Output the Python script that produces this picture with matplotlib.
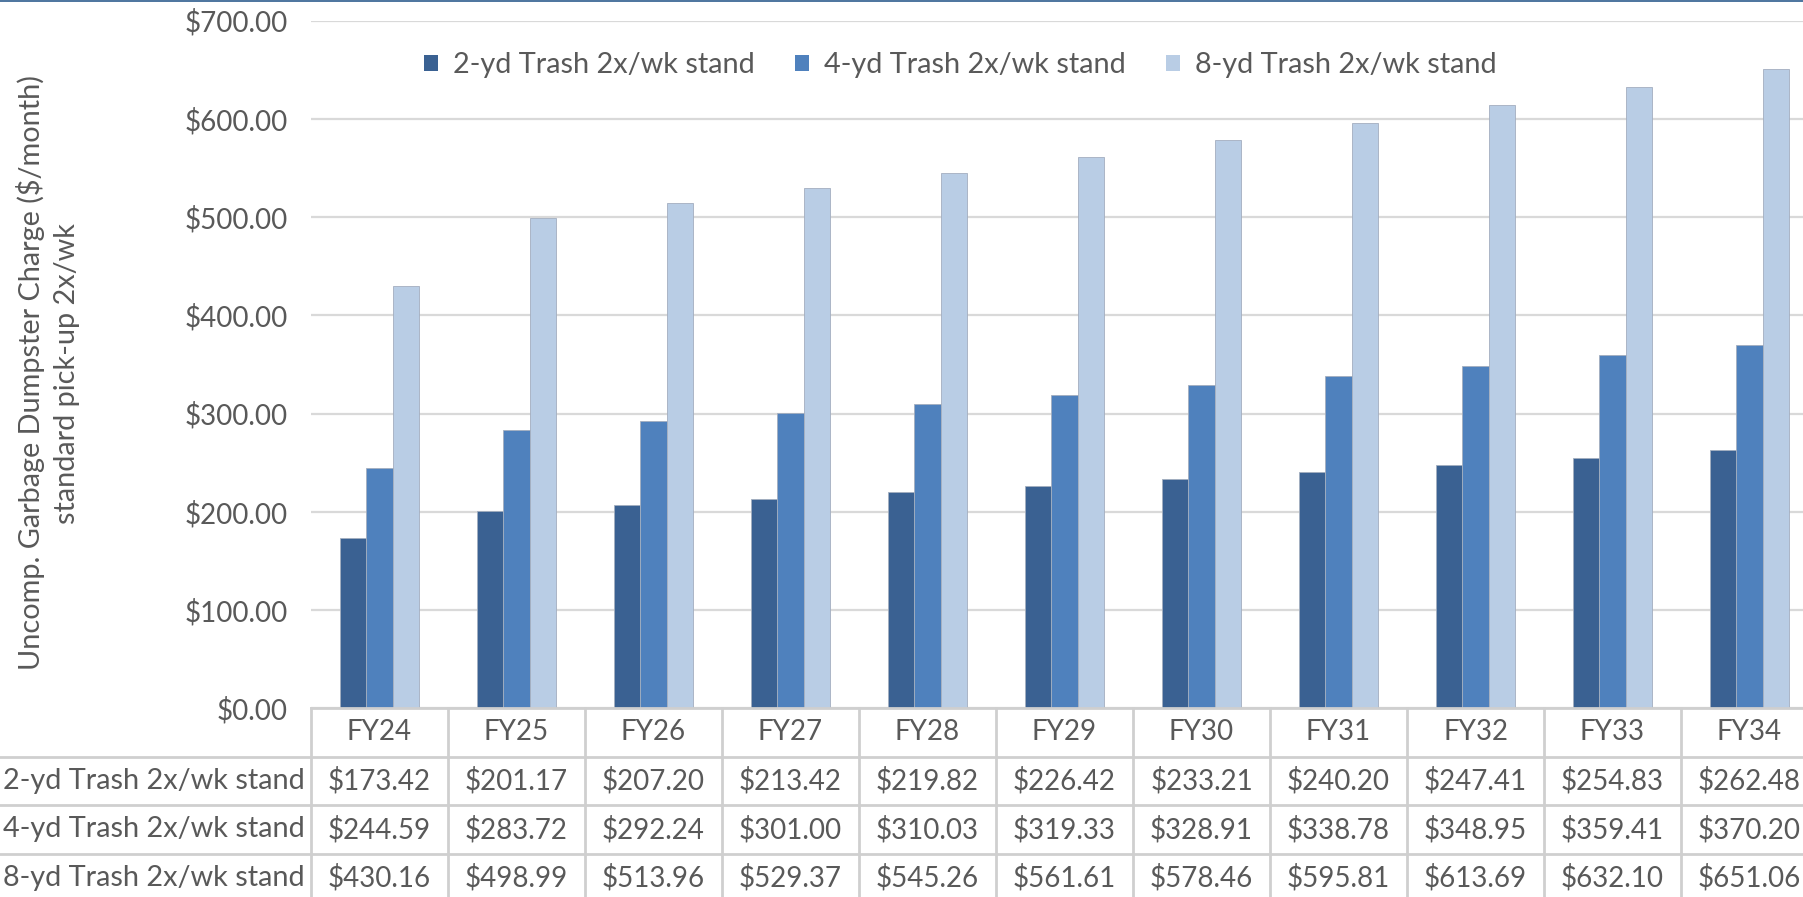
import numpy as np
import matplotlib.pyplot as plt
from matplotlib.lines import Line2D
from matplotlib.patches import Patch
from matplotlib.ticker import FuncFormatter

plt.rcParams['font.family'] = ['Lato', 'DejaVu Sans']

years = ['FY24', 'FY25', 'FY26', 'FY27', 'FY28', 'FY29', 'FY30', 'FY31', 'FY32', 'FY33', 'FY34']
names = ['2-yd Trash 2x/wk stand', '4-yd Trash 2x/wk stand', '8-yd Trash 2x/wk stand']
yd2 = [173.42, 201.17, 207.20, 213.42, 219.82, 226.42, 233.21, 240.20, 247.41, 254.83, 262.48]
yd4 = [244.59, 283.72, 292.24, 301.00, 310.03, 319.33, 328.91, 338.78, 348.95, 359.41, 370.20]
yd8 = [430.16, 498.99, 513.96, 529.37, 545.26, 561.61, 578.46, 595.81, 613.69, 632.10, 651.06]
colors = ['#3A6192', '#4F81BD', '#B9CDE5']

W, H = 1803, 897
txt = '#595959'
fs = 20       # numbers
fs_t = 20.8   # words come out a bit narrow in Lato
grid_c = '#d9d9d9'
line_c = '#cfcfcf'

fig = plt.figure(figsize=(W / 100, H / 100), dpi=100)

# main plot area - runs past the right edge like the original crop
left, colw = 311, 137.0
y0, y700 = 708.3, 20.7
ax = fig.add_axes([left / W, (H - y0) / H, 11 * colw / W, (y0 - y700) / H])
x = np.arange(len(years))
bw = 0.193
for i, (vals, c) in enumerate(zip([yd2, yd4, yd8], colors)):
    ax.bar(x + (i - 1) * bw, vals, bw, color=c, edgecolor='#a3aebf', linewidth=0.6, zorder=3)

ax.set_xlim(-0.5, len(years) - 0.5)
ax.set_ylim(0, 700)
ax.set_yticks(np.arange(0, 701, 100))
ax.yaxis.set_major_formatter(FuncFormatter(lambda v, p: f'${v:,.2f}'))
ax.tick_params(axis='y', length=0, pad=17, labelsize=fs, labelcolor=txt)
ax.set_xticks([])
ax.grid(axis='y', color=grid_c, linewidth=1.6, zorder=0)
for s in ax.spines.values():
    s.set_visible(False)

fig.text(48 / W, 1 - 373 / H,
         'Uncomp. Garbage Dumpster Charge ($/month)\nstandard pick-up 2x/wk',
         rotation=90, ha='center', va='center', fontsize=fs_t, color=txt,
         linespacing=1.4, multialignment='center')

handles = [Patch(facecolor=c, edgecolor='none') for c in colors]
fig.legend(handles, names, loc='center', bbox_to_anchor=(960 / W, 1 - 65.5 / H),
           ncol=3, frameon=False, fontsize=fs_t, labelcolor=txt,
           handlelength=0.5, handleheight=0.5, handletextpad=0.5, columnspacing=1.4)

# data table under the chart
rowh = 48.4
tb = fig.add_axes([left / W, (H - y0 - 4 * rowh) / H, 11 * colw / W, 4 * rowh / H])
tb.set_xlim(-0.5, len(years) - 0.5)
tb.set_ylim(4, 0)
tb.axis('off')
far_left = -0.5 - left / colw
for k in range(len(years) + 1):
    tb.plot([k - 0.5, k - 0.5], [0, 4], color=line_c, lw=2, clip_on=False)
tb.plot([-0.5, 11], [0, 0], color=line_c, lw=2, clip_on=False)
for r in range(1, 4):
    tb.plot([far_left, 11], [r, r], color=line_c, lw=2, clip_on=False)

for j, yr in enumerate(years):
    tb.text(j, 0.5, yr, ha='center', va='center', fontsize=fs, color=txt)
for r, (nm, vals) in enumerate(zip(names, [yd2, yd4, yd8])):
    tb.text(-0.5 - 6 / colw, r + 1.5, nm, ha='right', va='center', fontsize=fs_t, color=txt)
    for j, v in enumerate(vals):
        tb.text(j, r + 1.5, f'${v:,.2f}', ha='center', va='center', fontsize=fs,
                color=txt, clip_on=False)

# thin blue frame line at the very top
fig.add_artist(Line2D([0, 1], [1 - 0.8 / H, 1 - 0.8 / H], color='#2E5C8E', lw=1.2))

fig.savefig('out.png', dpi=100)
